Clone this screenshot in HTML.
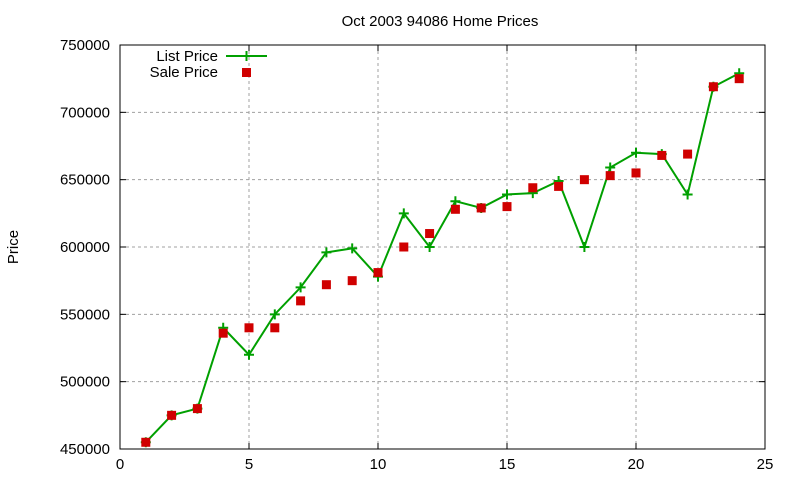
<!DOCTYPE html>
<html><head><meta charset="utf-8"><style>
body{margin:0;background:#fff}
svg text{font-family:"Liberation Sans",sans-serif;font-size:15px;fill:#000}
</style></head><body>
<svg id="c" width="800" height="480" xmlns="http://www.w3.org/2000/svg">
<rect width="800" height="480" fill="#fff"/>
<text x="440" y="26" text-anchor="middle" font-size="14">Oct 2003 94086 Home Prices</text>
<text transform="translate(18,247) rotate(-90)" text-anchor="middle">Price</text>
<g id="grid"></g><g id="ticks"></g>
<rect x="120" y="45" width="645" height="404" fill="none" stroke="#000" stroke-width="1"/>
<g id="series"></g>
<g>
<text x="218" y="61" text-anchor="end">List Price</text>
<line x1="226" y1="56" x2="267" y2="56" stroke="#00a000" stroke-width="2"/>
<path d="M246.5 51v10M241.5 56h10" stroke="#00a000" stroke-width="2"/>
<text x="218" y="77" text-anchor="end">Sale Price</text>
<rect x="242" y="68" width="9" height="9" fill="#d00000"/>
</g>
</svg>
<script>
const xs=[1,2,3,4,5,6,7,8,9,10,11,12,13,14,15,16,17,18,19,20,21,22,23,24];
const listPrice=[455000,475000,480000,540000,520000,550000,570000,596000,599000,578000,625000,600000,634000,629000,639000,640000,649000,600000,659000,670000,669000,639000,719000,729000];
const salePrice=[455000,475000,480000,536000,540000,540000,560000,572000,575000,581000,600000,610000,628000,629000,630000,644000,645000,650000,653000,655000,668000,669000,719000,725000];
const xTicks=[0,5,10,15,20,25];
const yTicks=[450000,500000,550000,600000,650000,700000,750000];
const X=v=>120+v*(645/25);
const Y=v=>449-(v-450000)*(404/300000);
const NS="http://www.w3.org/2000/svg";
function mk(t,a,p){const e=document.createElementNS(NS,t);for(const k in a)e.setAttribute(k,a[k]);p.appendChild(e);return e;}
const g=document.getElementById('grid'),tk=document.getElementById('ticks'),s=document.getElementById('series');
xTicks.forEach(v=>{const x=X(v);
if(v>0&&v<25){const l=mk('line',{x1:x,y1:45,x2:x,y2:449,stroke:'#a0a0a0','stroke-dasharray':'3,3'},g);

}
const t=mk('text',{x:x,y:469,'text-anchor':'middle'},tk);t.textContent=v;


mk('line',{x1:x,y1:449,x2:x,y2:443,stroke:'#000'},tk);mk('line',{x1:x,y1:45,x2:x,y2:51,stroke:'#000'},tk);});
yTicks.forEach(v=>{const y=Y(v);
if(v>450000&&v<750000){const l=mk('line',{x1:120,y1:y,x2:765,y2:y,stroke:'#a0a0a0','stroke-dasharray':'3,3'},g);

}
const t=mk('text',{x:110,y:y+5,'text-anchor':'end'},tk);t.textContent=v;


mk('line',{x1:120,y1:y,x2:126,y2:y,stroke:'#000'},tk);mk('line',{x1:765,y1:y,x2:759,y2:y,stroke:'#000'},tk);});
const pl=mk('polyline',{points:xs.map((x,i)=>X(x)+','+Y(listPrice[i])).join(' '),fill:'none',stroke:'#00a000','stroke-width':2},s);


xs.forEach((x,i)=>{const cx=X(x),cy=Y(listPrice[i]);
const p=mk('path',{d:`M${cx} ${cy-5}v10M${cx-5} ${cy}h10`,stroke:'#00a000','stroke-width':2},s);

});
xs.forEach((x,i)=>{const cx=X(x),cy=Y(salePrice[i]);
const r=mk('rect',{x:cx-4.5,y:cy-4.5,width:9,height:9,fill:'#d00000'},s);

});
</script>
</body></html>
